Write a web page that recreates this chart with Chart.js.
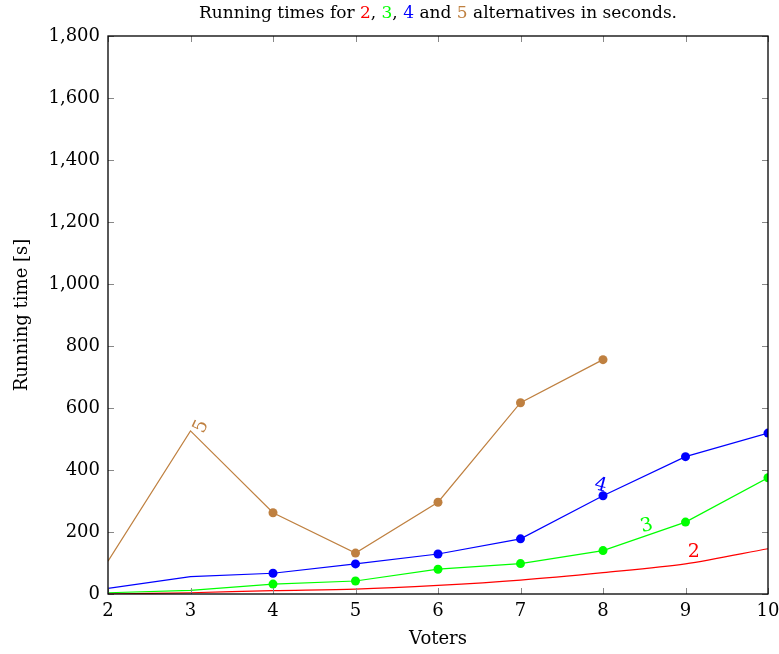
<!DOCTYPE html>
<html>
<head>
<meta charset="utf-8">
<script src="https://cdn.jsdelivr.net/npm/chart.js@4.4.1/dist/chart.umd.min.js"></script>
<style>
  html, body { margin: 0; padding: 0; background: #fff; }
  #wrap { width: 779px; height: 654px; }
</style>
</head>
<body>
<div id="wrap"><canvas id="runChart" width="779" height="654"></canvas></div>
<script>
// Voters on the x axis
const voters = [2, 3, 4, 5, 6, 7, 8, 9, 10];

// Running times [s] per number of alternatives
const alt2 = [0, 4, 11, 16, 28, 45, 69, 97, 146];
const alt3 = [4, 12, 32, 42, 80, 98, 140, 232, 375];
const alt4 = [18, 56, 67, 97, 129, 178, 317, 443, 519];
const alt5 = [106, 526, 262, 132, 296, 617, 756];

// Inline labels: [text, x, y, rotation deg, colour]
const lineLabels = [
    ['2', 9.1, 135, 0, '#ff0000'],
    ['3', 8.53, 220, -15, '#00ff00'],
    ['4', 7.97, 350, 15, '#0000ff'],
    ['5', 3.13, 540, -65, '#bf8040']
];

const SERIF = '"DejaVu Serif", "Liberation Serif", serif';

const toPoints = (vals) => vals.map((v, i) => ({ x: voters[i], y: v }));
// markers only from 4 voters on
const markerRadius = (vals, r) => vals.map((v, i) => voters[i] >= 4 ? r : 0);

// Multicoloured title
const titlePlugin = {
    id: 'colourTitle',
    afterDraw(chart) {
        const c = chart.ctx;
        const parts = [
            ['Running times for ', '#000'], ['2', '#ff0000'], [', ', '#000'],
            ['3', '#00ff00'], [', ', '#000'], ['4', '#0000ff'], [' and ', '#000'],
            ['5', '#bf8040'], [' alternatives in seconds.', '#000']
        ];
        c.save();
        c.font = '17px ' + SERIF;
        c.textBaseline = 'middle';
        const total = parts.reduce((s, p) => s + c.measureText(p[0]).width, 0);
        const mid = (chart.chartArea.left + chart.chartArea.right) / 2;
        let x = mid - total / 2;
        parts.forEach(p => {
            c.fillStyle = p[1];
            c.fillText(p[0], x, 14);
            x += c.measureText(p[0]).width;
        });
        c.restore();
    }
};

// Frame and inward ticks, pgfplots style
const framePlugin = {
    id: 'frame',
    afterDatasetsDraw(chart) {
        const c = chart.ctx;
        const a = chart.chartArea;
        const xs = chart.scales.x, ys = chart.scales.y;
        c.save();
        c.strokeStyle = '#888';
        c.lineWidth = 1;
        c.beginPath();
        xs.ticks.forEach(t => {
            const px = Math.round(xs.getPixelForValue(t.value)) + 0.5;
            c.moveTo(px, a.bottom); c.lineTo(px, a.bottom - 6);
            c.moveTo(px, a.top); c.lineTo(px, a.top + 6);
        });
        ys.ticks.forEach(t => {
            const py = Math.round(ys.getPixelForValue(t.value)) + 0.5;
            c.moveTo(a.left, py); c.lineTo(a.left + 6, py);
            c.moveTo(a.right, py); c.lineTo(a.right - 6, py);
        });
        c.stroke();
        c.strokeStyle = '#000';
        c.lineWidth = 1.3;
        c.strokeRect(a.left, a.top, a.right - a.left, a.bottom - a.top);
        c.restore();

        c.save();
        c.font = '19px ' + SERIF;
        c.textAlign = 'center';
        c.textBaseline = 'middle';
        lineLabels.forEach(([txt, x, y, rot, col]) => {
            c.save();
            c.translate(xs.getPixelForValue(x), ys.getPixelForValue(y));
            c.rotate(rot * Math.PI / 180);
            c.fillStyle = col;
            c.fillText(txt, 0, 0);
            c.restore();
        });
        c.restore();
    }
};

new Chart(document.getElementById('runChart'), {
    type: 'line',
    data: {
        datasets: [
            { label: '2', data: toPoints(alt2), borderColor: '#ff0000', borderWidth: 1.2, pointRadius: 0, tension: 0.3 },
            { label: '3', data: toPoints(alt3), borderColor: '#00ff00', backgroundColor: '#00ff00', borderWidth: 1.2,
              pointRadius: markerRadius(alt3, 4.5), pointBorderWidth: 0, tension: 0 },
            { label: '4', data: toPoints(alt4), borderColor: '#0000ff', backgroundColor: '#0000ff', borderWidth: 1.2,
              pointRadius: markerRadius(alt4, 4.5), pointBorderWidth: 0, tension: 0 },
            { label: '5', data: toPoints(alt5), borderColor: '#bf8040', backgroundColor: '#bf8040', borderWidth: 1.2,
              pointRadius: markerRadius(alt5, 4.5), pointBorderWidth: 0, tension: 0 }
        ]
    },
    options: {
        responsive: false,
        animation: false,
        layout: { padding: { top: 36, right: 11, left: 0, bottom: 0 } },
        plugins: { legend: { display: false }, tooltip: { enabled: false } },
        scales: {
            x: {
                type: 'linear', min: 2, max: 10,
                grid: { display: false, drawTicks: false },
                border: { display: false },
                ticks: { stepSize: 1, color: '#000', padding: 7, maxRotation: 0, font: { family: SERIF, size: 18 } },
                title: { display: true, text: 'Voters', color: '#000', padding: { top: 4, bottom: 4 }, font: { family: SERIF, size: 18 } },
                afterFit(s) { s.height = 60; s.paddingLeft = 0; s.paddingRight = 0; }
            },
            y: {
                min: 0, max: 1800,
                grid: { display: false, drawTicks: false },
                border: { display: false },
                ticks: { stepSize: 200, color: '#000', padding: 8, font: { family: SERIF, size: 18 },
                         callback: v => v.toLocaleString('en-US') },
                title: { display: true, text: 'Running time [s]', color: '#000', padding: { top: 12, bottom: 4 }, font: { family: SERIF, size: 18 } },
                afterFit(s) { s.width = 108; s.paddingTop = 0; s.paddingBottom = 0; }
            }
        }
    },
    plugins: [titlePlugin, framePlugin]
});
</script>
</body>
</html>
